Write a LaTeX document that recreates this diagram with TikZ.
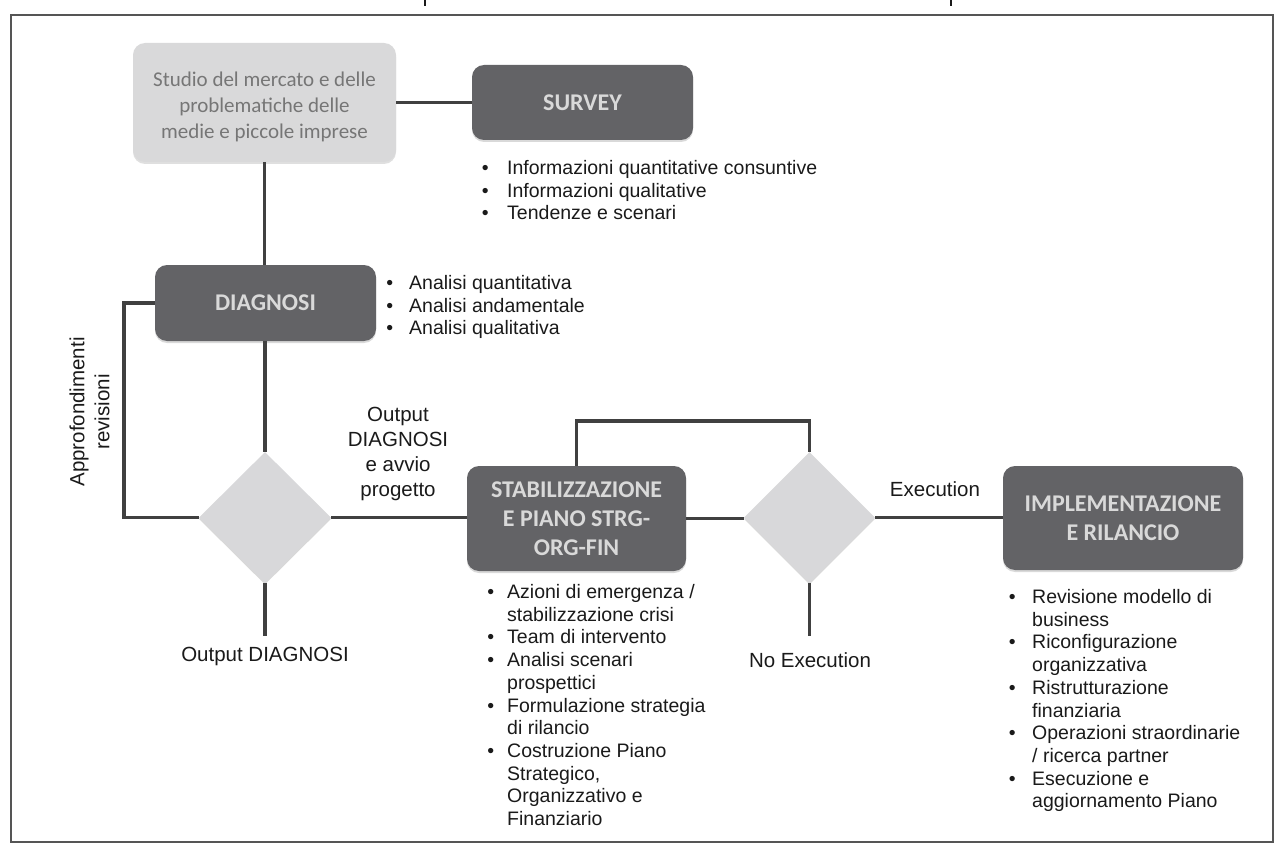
\documentclass[tikz,border=0pt]{standalone}
\usepackage{fontspec}
\setmainfont{Liberation Sans}
\newfontfamily\calfont{Carlito}
\usetikzlibrary{shapes.geometric,shadows}
\definecolor{boxdark}{RGB}{99,99,102}
\definecolor{boxtxt}{RGB}{217,217,217}
\definecolor{boxlight}{RGB}{217,217,218}
\definecolor{lighttxt}{RGB}{118,118,118}
\definecolor{dmd}{RGB}{216,216,218}
\definecolor{conncol}{RGB}{64,64,64}
\definecolor{framecol}{RGB}{85,85,85}
\definecolor{txtcol}{RGB}{26,26,26}
\newcommand\itm[1][17pt]{\makebox[0pt][r]{\textbullet\hspace{#1}}}
\begin{document}
\begin{tikzpicture}[x=1pt,y=-1pt,
  darkbox/.style={rectangle, rounded corners=12pt, fill=boxdark, text=boxtxt,
    font=\calfont\bfseries\fontsize{24}{28.8}\selectfont, align=center, inner sep=0pt,
    drop shadow={shadow xshift=0pt, shadow yshift=-2pt, opacity=0.3}},
  lightbox/.style={rectangle, rounded corners=12pt, fill=boxlight, text=lighttxt,
    font=\calfont\fontsize{21}{26}\selectfont, align=center, inner sep=0pt,
    drop shadow={shadow xshift=0pt, shadow yshift=-2pt, opacity=0.25}},
  dmdshape/.style={diamond, fill=dmd, inner sep=0pt,
    drop shadow={shadow xshift=0pt, shadow yshift=-1.5pt, opacity=0.3}},
  conn/.style={draw=conncol, line width=3.5pt, line join=miter},
  lbl/.style={text=txtcol, font=\fontsize{20.5}{25}\selectfont, inner sep=0pt},
  blist/.style={text=txtcol, font=\fontsize{19.5}{22.7}\selectfont, inner sep=0pt, anchor=base west}
]
\useasboundingbox (0,0) rectangle (1283,848);
\draw[framecol, line width=1.5pt] (11,15) rectangle (1273,842);
\draw[txtcol, line width=1.3pt] (425,0) -- (425,6);
\draw[txtcol, line width=1.3pt] (951,0) -- (951,6);

% coordinates
\coordinate (lp) at (124,303);
\coordinate (top) at (577,421);
\coordinate (d1end) at (265,636);
\coordinate (d2end) at (809.5,636);

% boxes
\node[lightbox, minimum width=263pt, minimum height=119pt] (study) at (264.5,102.5)
  {\rule{0pt}{23pt}Studio del mercato e delle\\problematiche delle\\medie e piccole imprese};
\node[darkbox, minimum width=221pt, minimum height=75pt] (survey) at (582.5,102.5) {SURVEY};
\node[darkbox, minimum width=221pt, minimum height=76pt] (diag) at (265.5,303) {DIAGNOSI};
\node[dmdshape, minimum width=132pt, minimum height=131pt] (d1) at (265,517.5) {};
\node[darkbox, minimum width=219pt, minimum height=105pt] (stab) at (576.5,518.5)
  {STABILIZZAZIONE\\E PIANO STRG-\\ORG-FIN};
\node[dmdshape, minimum width=131pt, minimum height=131pt] (d2) at (809.5,517.5) {};
\node[darkbox, minimum width=240pt, minimum height=104pt] (impl) at (1123,518)
  {IMPLEMENTAZIONE\\E RILANCIO};

% connectors
\draw[conn] (study.east) -- (study.east -| survey.west);
\draw[conn] (study.south) -- (study.south |- diag.north);
\draw[conn] (d1.north |- diag.south) -- (d1.north);
\draw[conn] (diag.west) -- (diag.west -| lp) |- (d1.west);
\draw[conn] (d1.east) -- (d1.east -| stab.west);
\draw[conn] (stab.east) -- (stab.east -| d2.west);
\draw[conn] (d2.east) -- (d2.east -| impl.west);
\draw[conn] (stab.north) -- (stab.north |- top) -| (d2.north);
\draw[conn] (d1.south) -- (d1end);
\draw[conn] (d2.south) -- (d2end);

% labels
\node[lbl, align=center] (outlbl) at (398,454) {Output\\DIAGNOSI\\e avvio\\progetto};
\node[lbl] (exec) at (935,489) {Execution};
\node[lbl] (noexec) at (810,660) {No Execution};
\node[lbl] (outd) at (265,656) {Output DIAGNOSI};
\node[lbl, rotate=90, align=center] (appr) at (89.5,412) {Approfondimenti\\revisioni};

% bullet lists
\node[blist] (survlist) at (507,174.5) {\begin{tabular}[t]{@{}l@{}}
\itm[18.6pt]Informazioni quantitative consuntive\\
\itm[18.6pt]Informazioni qualitative\\
\itm[18.6pt]Tendenze e scenari
\end{tabular}};
\node[blist] (diaglist) at (409,289.5) {\begin{tabular}[t]{@{}l@{}}
\itm[16pt]Analisi quantitativa\\
\itm[16pt]Analisi andamentale\\
\itm[16pt]Analisi qualitativa
\end{tabular}};
\node[blist] (stablist) at (507,598.5) {\begin{tabular}[t]{@{}l@{}}
\itm[13pt]Azioni di emergenza /\\
stabilizzazione crisi\\
\itm[13pt]Team di intervento\\
\itm[13pt]Analisi scenari\\
prospettici\\
\itm[13pt]Formulazione strategia\\
di rilancio\\
\itm[13pt]Costruzione Piano\\
Strategico,\\
Organizzativo e\\
Finanziario
\end{tabular}};
\node[blist] (impllist) at (1032,603.5) {\begin{tabular}[t]{@{}l@{}}
\itm[16.5pt]Revisione modello di\\
business\\
\itm[16.5pt]Riconfigurazione\\
organizzativa\\
\itm[16.5pt]Ristrutturazione\\
finanziaria\\
\itm[16.5pt]Operazioni straordinarie\\
/ ricerca partner\\
\itm[16.5pt]Esecuzione e\\
aggiornamento Piano
\end{tabular}};
\end{tikzpicture}
\end{document}
